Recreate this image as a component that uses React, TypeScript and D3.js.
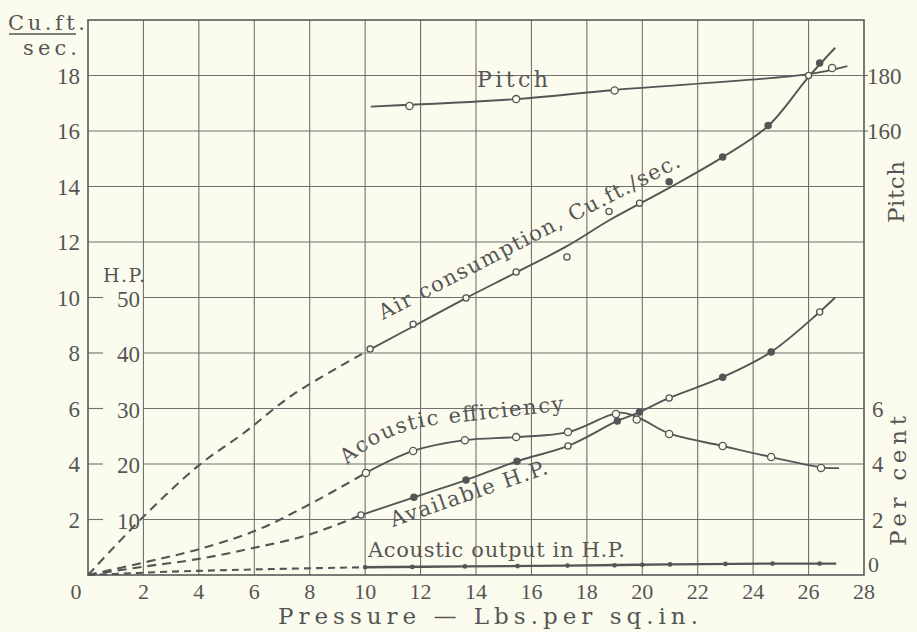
import React from 'react'
import * as d3 from 'd3'

// pressure ticks (lbs per sq.in.)
const pressureTicks = [0, 2, 4, 6, 8, 10, 12, 14, 16, 18, 20, 22, 24, 26, 28]
const cuftTicks = [2, 4, 6, 8, 10, 12, 14, 16, 18]
const hpTicks = [10, 20, 30, 40, 50]
const pitchTicks = [160, 180]
const perCentTicks = [2, 4, 6]

// Pitch (markers + drawn curve)
const pitchP = [11.6, 15.45, 19.0, 26.85]
const pitchV = [169, 171.5, 174.6, 182.7]
const pitchCurveP = [10.2, 15.45, 19.0, 26.0, 27.4]
const pitchCurveV = [168.8, 171.5, 174.8, 180.5, 183.4]

// Air consumption, cu.ft./sec.
const airP = [10.18, 11.73, 13.64, 15.45, 17.28, 18.8, 19.9, 20.97, 22.9, 24.54, 26.0, 26.4]
const airV = [8.14, 9.04, 9.98, 10.92, 11.46, 13.1, 13.4, 14.17, 15.06, 16.2, 18.0, 18.45]
const airCurveP = [10.2, 12, 13.64, 15.45, 17.28, 18.84, 20.97, 22.9, 24.54, 26.0, 26.96]
const airCurveV = [8.14, 9.1, 9.98, 10.9, 11.85, 12.8, 13.95, 15.06, 16.18, 17.95, 19.0]
const airDashP = [0, 2, 4, 5.6, 7.4, 10.2]
const airDashV = [0, 2.1, 3.95, 5.1, 6.5, 8.14]

// Acoustic efficiency, per cent
const effP = [10.03, 11.73, 13.6, 15.45, 17.32, 19.05, 19.8, 20.97, 22.9, 24.65, 26.45]
const effV = [3.68, 4.47, 4.86, 4.97, 5.15, 5.8, 5.6, 5.08, 4.65, 4.25, 3.86]
const effCurveP = [10.03, 11.73, 13.6, 15.45, 17.32, 19.2, 19.9, 20.97, 22.9, 24.65, 26.45, 27.1]
const effCurveV = [3.68, 4.47, 4.86, 4.97, 5.15, 5.85, 5.65, 5.1, 4.65, 4.25, 3.88, 3.85]
const effDashP = [0, 2.1, 4, 6.1, 8, 10.03]
const effDashV = [0, 0.47, 0.93, 1.62, 2.55, 3.68]

// Available H.P.
const availP = [9.85, 11.76, 13.64, 15.48, 17.32, 19.1, 19.9, 20.97, 22.9, 24.65, 26.4]
const availV = [10.8, 14.0, 17.1, 20.5, 23.25, 27.75, 29.35, 31.9, 35.65, 40.2, 47.4]
const availCurveP = [9.85, 11.76, 13.64, 15.48, 17.32, 19.1, 19.9, 20.97, 22.9, 24.65, 26.4, 26.96]
const availCurveV = [10.8, 14.0, 17.1, 20.5, 23.25, 27.75, 29.35, 31.9, 35.65, 40.2, 47.4, 50]
const availDashP = [0, 2, 4, 6, 8, 9.85]
const availDashV = [0, 1.5, 2.9, 4.9, 7.3, 10.8]

// Acoustic output in H.P.
const outP = [10, 11.7, 13.6, 15.5, 17.3, 19, 20, 21, 23, 24.7, 26.4]
const outV = [1.4, 1.45, 1.55, 1.6, 1.7, 1.75, 1.85, 1.9, 2.0, 2.05, 2.05]
const outCurveP = [10, 13.6, 17.3, 21, 24.7, 27]
const outCurveV = [1.4, 1.55, 1.7, 1.9, 2.05, 2.05]
const outDashP = [0, 3, 6, 10]
const outDashV = [0, 0.6, 1.0, 1.4]

const W = 917
const H = 632
const ink = '#555555'
const paper = '#fcfcee'
const font = '"Liberation Serif", "DejaVu Serif", serif'
const wide = '"DejaVu Serif", "Liberation Serif", serif'

export default function App() {
  const x = d3.scaleLinear().domain([0, 28]).range([88, 864])
  const y = d3.scaleLinear().domain([0, 20]).range([575, 20])
  const yHP = d3.scaleLinear().domain([0, 100]).range([575, 20])
  const yPitch = d3.scaleLinear().domain([0, 200]).range([575, 20])

  const mk = (ys: d3.ScaleLinear<number, number>) =>
    d3.line<[number, number]>()
      .x(d => x(d[0]))
      .y(d => ys(d[1]))
      .curve(d3.curveCatmullRom.alpha(0.5))

  const zip = (a: number[], b: number[]) => a.map((v, i) => [v, b[i]] as [number, number])

  const solid = { fill: 'none', stroke: ink, strokeWidth: 1.9 }
  const dashed = { fill: 'none', stroke: ink, strokeWidth: 2.1, strokeDasharray: '9 6' }

  const hpRowsY = hpTicks.map(v => yHP(v))

  return (
    <svg width={W} height={H} style={{ position: 'absolute', left: 0, top: 0 }}
      fontFamily={font}>
      <rect width={W} height={H} fill={paper} />

      {/* grid */}
      <g stroke="#707070" strokeWidth={1.1}>
        {pressureTicks.slice(1, -1).map(t => (
          <line key={'v' + t} x1={x(t)} x2={x(t)} y1={y(20)} y2={y(0)} />
        ))}
        {cuftTicks.map(t => {
          const inHP = hpRowsY.some(r => Math.abs(r - y(t)) < 1)
          return <line key={'h' + t} x1={inHP ? x(2) : x(0)} x2={x(28)} y1={y(t)} y2={y(t)} />
        })}
        {hpTicks.map(t => (
          <line key={'hp' + t} x1={x(0)} x2={x(0) + 15} y1={yHP(t)} y2={yHP(t)} />
        ))}
        {pitchTicks.map(t => (
          <line key={'pt' + t} x1={x(28)} x2={x(28) + 4} y1={yPitch(t)} y2={yPitch(t)} />
        ))}
      </g>
      <rect x={x(0)} y={y(20)} width={x(28) - x(0)} height={y(0) - y(20)}
        fill="none" stroke="#585858" strokeWidth={1.6} />

      {/* dashed extrapolations */}
      <path d={mk(y)(zip(airDashP, airDashV)) || ''} {...dashed} />
      <path d={mk(y)(zip(effDashP, effDashV)) || ''} {...dashed} />
      <path d={mk(yHP)(zip(availDashP, availDashV)) || ''} {...dashed} />
      <path d={mk(yHP)(zip(outDashP, outDashV)) || ''} {...dashed} strokeDasharray="7 5" />

      {/* curves */}
      <path d={mk(yPitch)(zip(pitchCurveP, pitchCurveV)) || ''} {...solid} />
      <path d={mk(y)(zip(airCurveP, airCurveV)) || ''} {...solid} />
      <path d={mk(y)(zip(effCurveP, effCurveV)) || ''} {...solid} />
      <path d={mk(yHP)(zip(availCurveP, availCurveV)) || ''} {...solid} />
      <path d={mk(yHP)(zip(outCurveP, outCurveV)) || ''} {...solid} strokeWidth={2.3} />

      {/* markers */}
      <g stroke={ink} strokeWidth={1.3}>
        {pitchP.map((p, i) => (
          <circle key={'pm' + i} cx={x(p)} cy={yPitch(pitchV[i])} r={3.6} fill={paper} />
        ))}
        {airP.map((p, i) => (
          <circle key={'am' + i} cx={x(p)} cy={y(airV[i])} r={3.1}
            fill={i >= 7 && i !== 10 ? ink : paper} />
        ))}
        {effP.map((p, i) => (
          <circle key={'em' + i} cx={x(p)} cy={y(effV[i])} r={3.6} fill={paper} />
        ))}
        {availP.map((p, i) => (
          <circle key={'vm' + i} cx={x(p)} cy={yHP(availV[i])} r={3.1}
            fill={i === 0 || i === 4 || i === 7 || i === 10 ? paper : ink} />
        ))}
        {outP.map((p, i) => (
          <circle key={'om' + i} cx={x(p)} cy={yHP(outV[i])} r={1.7} fill={ink} />
        ))}
      </g>

      {/* axis labels */}
      <g fill={ink} fontSize={23}>
        {cuftTicks.map(t => (
          <text key={'lt' + t} x={80} y={y(t) + 8} textAnchor="end">{t}</text>
        ))}
        {hpTicks.map(t => (
          <text key={'ht' + t} x={140} y={yHP(t) + 9} textAnchor="end">{t}</text>
        ))}
        {pressureTicks.map(t => (
          <text key={'bt' + t} x={t === 0 ? 76 : x(t)} y={599}
            fontSize={22} textAnchor="middle">{t}</text>
        ))}
        {pitchTicks.map(t => (
          <text key={'pt' + t} x={867} y={yPitch(t) + 8}>{t}</text>
        ))}
        {perCentTicks.map(t => (
          <text key={'pc' + t} x={872} y={y(t) + 8}>{t}</text>
        ))}
        <text x={868} y={572} fontSize={22}>0</text>
      </g>
      <g fill={ink} fontFamily={wide} fontSize={21}>
        <text x={8} y={30} textLength={77} lengthAdjust="spacing">Cu.ft.</text>
        <line x1={9} x2={76} y1={34} y2={34} stroke={ink} strokeWidth={1.4} />
        <text x={23} y={55} textLength={54} lengthAdjust="spacing">sec.</text>
        <text x={103} y={282} fontSize={19} textLength={42} lengthAdjust="spacing">H.P.</text>
        <text transform="translate(904,192) rotate(-90)" textAnchor="middle" fontSize={23}
          textLength={62} lengthAdjust="spacing">Pitch</text>
        <text transform="translate(906,481) rotate(-90)" textAnchor="middle" fontSize={23}
          textLength={130} lengthAdjust="spacing">Per cent</text>
        <text x={278} y={624} fontSize={23} textLength={420} lengthAdjust="spacing">
          Pressure — Lbs.per sq.in.
        </text>
      </g>

      {/* curve labels */}
      <g fill={ink} fontFamily={wide} fontSize={21}>
        <text x={477} y={87} fontSize={22} textLength={71} lengthAdjust="spacing">Pitch</text>
        <text transform="translate(383,320) rotate(-27.3)" textLength={336}
          lengthAdjust="spacing">Air consumption, Cu.ft./sec.</text>
        <path id="effLabel" d="M347,465 Q385,430 443,424 L568,410" fill="none" />
        <text>
          <textPath href="#effLabel" textLength={228} lengthAdjust="spacing">
            Acoustic efficiency
          </textPath>
        </text>
        <text transform="translate(393,527) rotate(-19)" textLength={165}
          lengthAdjust="spacing">Available H.P.</text>
        <text x={368} y={557} textLength={257} lengthAdjust="spacing">
          Acoustic output in H.P.
        </text>
      </g>
    </svg>
  )
}
